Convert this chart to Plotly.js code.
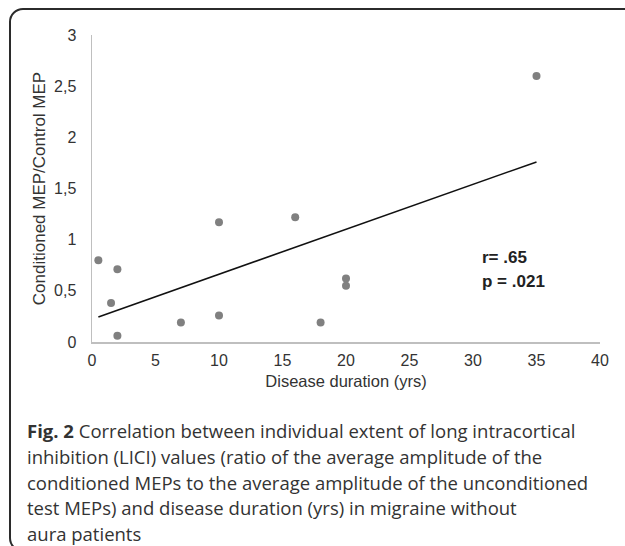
<!DOCTYPE html>
<html>
<head>
<meta charset="utf-8">
<script src="https://cdn.plot.ly/plotly-3.0.1.min.js"></script>
<style>
  html, body { margin: 0; padding: 0; background: #fff; width: 625px; height: 546px; overflow: hidden; }
  #frame { position: absolute; left: 9px; top: 8px; width: 640px; height: 544px; border: 2px solid #2b2b2b; border-radius: 14px; box-sizing: border-box; }
  #chart { position: absolute; left: 0; top: 0; width: 625px; height: 400px; }
  #caption { position: absolute; left: 27px; top: 418px; width: 600px; font-family: "Open Sans", sans-serif; font-size: 18.5px; line-height: 25.8px; color: #333333; white-space: nowrap; }
  #caption b { font-weight: 700; }
</style>
</head>
<body>
<div id="frame"></div>
<div id="chart"></div>
<div id="caption"><b>Fig. 2</b> Correlation between individual extent of long intracortical<br>inhibition (LICI) values (ratio of the average amplitude of the<br>conditioned MEPs to the average amplitude of the unconditioned<br>test MEPs) and disease duration (yrs) in migraine without<br>aura patients</div>
<script>
// Disease duration (yrs)
var durations = [0.5, 1.5, 2, 2, 7, 10, 10, 16, 18, 20, 20, 35];
// Conditioned MEP / Control MEP
var ratios = [0.80, 0.38, 0.71, 0.06, 0.19, 1.17, 0.26, 1.22, 0.19, 0.62, 0.55, 2.60];
// Linear trendline end points
var trendX = [0.5, 35];
var trendY = [0.245, 1.76];
var xTicks = [0, 5, 10, 15, 20, 25, 30, 35, 40];
var yTicks = [0, 0.5, 1, 1.5, 2, 2.5, 3];
var statLines = ["r= .65", "p = .021"];
var statY = [0.83, 0.59];

var FAM = 'Liberation Sans, Arial, sans-serif';
var traces = [
  { x: durations, y: ratios, type: 'scatter', mode: 'markers',
    marker: { color: '#808080', size: 8 }, showlegend: false, hoverinfo: 'x+y' },
  { x: trendX, y: trendY, type: 'scatter', mode: 'lines',
    line: { color: '#111111', width: 1.6 }, showlegend: false, hoverinfo: 'skip' }
];

var tickFont = { family: FAM, size: 16, color: '#333333' };
var layout = {
  width: 625, height: 400,
  margin: { l: 92, r: 25, t: 35, b: 57.5 },
  paper_bgcolor: 'rgba(0,0,0,0)', plot_bgcolor: 'rgba(0,0,0,0)',
  font: { family: FAM },
  separators: ', ',
  showlegend: false,
  xaxis: {
    range: [0, 40], tickvals: xTicks, showgrid: false, zeroline: false,
    showline: true, linecolor: '#bfbfbf', linewidth: 1.5,
    ticks: 'outside', ticklen: 3, tickcolor: 'rgba(0,0,0,0)',
    tickfont: tickFont,
    title: { text: 'Disease duration (yrs)', font: { family: FAM, size: 16.5, color: '#333333' }, standoff: 7 }
  },
  yaxis: {
    range: [0, 3], tickvals: yTicks, showgrid: false, zeroline: false,
    showline: true, linecolor: '#bfbfbf', linewidth: 1.5,
    ticks: 'outside', ticklen: 11, tickcolor: 'rgba(0,0,0,0)',
    tickfont: tickFont,
    title: { text: 'Conditioned MEP/Control MEP', font: { family: FAM, size: 17, color: '#333333' }, standoff: 4 }
  },
  annotations: statLines.map(function (t, i) {
    return { x: 30.55, y: statY[i], xref: 'x', yref: 'y', text: '<b>' + t + '</b>',
      showarrow: false, xanchor: 'left', yanchor: 'middle',
      font: { family: FAM, size: 17, color: '#222222' } };
  })
};

Plotly.newPlot('chart', traces, layout, { staticPlot: true, displayModeBar: false });
</script>
</body>
</html>
